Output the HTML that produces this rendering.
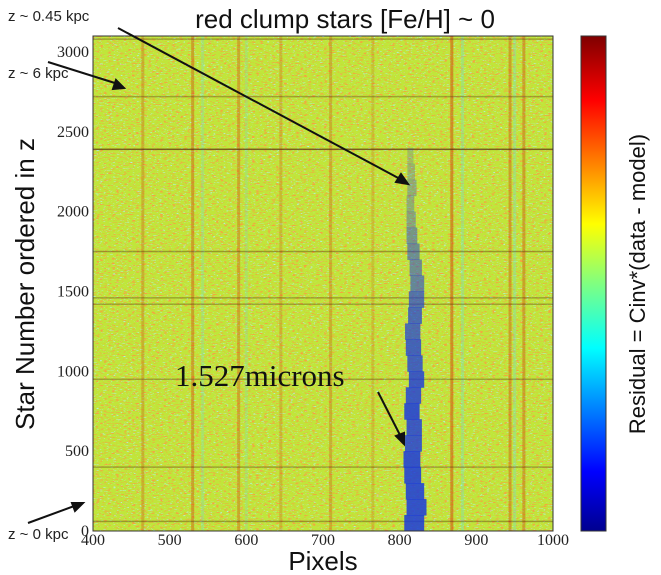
<!DOCTYPE html>
<html><head><meta charset="utf-8"><style>
html,body{margin:0;padding:0;background:#fff;}
svg{display:block;font-family:"Liberation Sans",sans-serif;}
</style></head><body>
<svg id="chart" width="661" height="575" viewBox="0 0 661 575">
<defs>
<linearGradient id="jet" x1="0" y1="1" x2="0" y2="0">
<stop offset="0" stop-color="#00008f"/><stop offset="0.12" stop-color="#0000ff"/>
<stop offset="0.37" stop-color="#00ffff"/><stop offset="0.5" stop-color="#80ff80"/>
<stop offset="0.62" stop-color="#ffff00"/><stop offset="0.87" stop-color="#ff0000"/>
<stop offset="1" stop-color="#7f0000"/></linearGradient>
<filter id="speck" x="0" y="0" width="100%" height="100%">
<feTurbulence type="fractalNoise" baseFrequency="0.25 0.9" numOctaves="2" seed="3"/>
<feColorMatrix type="matrix" values="0 0 0 0 0.9  0 0 0 0 0.38  0 0 0 0 0.05  7 0 0 0 -4.0"/>
</filter>
<filter id="speck2" x="0" y="0" width="100%" height="100%">
<feTurbulence type="fractalNoise" baseFrequency="0.3 1.2" numOctaves="2" seed="9"/>
<feColorMatrix type="matrix" values="0 0 0 0 0.45  0 0 0 0 0.88  0 0 0 0 0.75  0 7 0 0 -4.4"/>
</filter>
<clipPath id="plotclip"><rect x="93" y="36" width="460" height="495"/></clipPath>
</defs>
<g id="plot" clip-path="url(#plotclip)">
<rect x="93" y="36" width="460" height="495" fill="#c0e63a"/>
<rect x="93" y="36" width="460" height="495" filter="url(#speck2)"/>
<rect x="93" y="36" width="460" height="495" filter="url(#speck)"/>
<g id="stripes"></g><g id="hlines"></g><g id="band"></g>
</g>
<rect x="93" y="36" width="460" height="495" fill="none" stroke="#333" stroke-width="1"/>
<g id="axes"></g>
<rect x="581" y="36" width="25" height="495" fill="url(#jet)" stroke="#333" stroke-width="1"/>
<text x="345" y="28" font-size="26" text-anchor="middle" fill="#111">red clump stars [Fe/H] ~ 0</text>
<text x="323" y="570" font-size="26" text-anchor="middle" fill="#111">Pixels</text>
<text transform="translate(34,284) rotate(-90)" font-size="26" text-anchor="middle" fill="#111">Star Number ordered in z</text>
<text transform="translate(645,284) rotate(-90)" font-size="22" text-anchor="middle" fill="#111">Residual = Cinv*(data - model)</text>
<text x="8" y="21" font-size="15" fill="#222">z ~ 0.45 kpc</text>
<text x="8" y="78" font-size="15" fill="#222">z ~ 6 kpc</text>
<text x="8" y="539" font-size="15" fill="#222">z ~ 0 kpc</text>
<text x="175" y="386" font-size="31" font-family="Liberation Serif,serif" fill="#111">1.527microns</text>
<g stroke="#111" stroke-width="2" fill="#111">
<line x1="118" y1="28" x2="402" y2="180"/><polygon points="408,184 396,182 401,174"/>
<line x1="48" y1="62" x2="118" y2="84"/><polygon points="124,88 113,89 116,80"/>
<line x1="28" y1="523" x2="77" y2="505"/><polygon points="83,503 75,511 72,503"/>
<line x1="378" y1="392" x2="401" y2="437"/><polygon points="404,444 396,436 404,433"/>
</g>
</svg>
<script>
// data
const xTicks=[400,500,600,700,800,900,1000];
const yTicks=[0,500,1000,1500,2000,2500,3000];
const stripePixels=[465,530,543,590,600,645,710,765,868,882,944,950,962];
const stripeKinds=["r","r","c","r","c","r","r","r","r","c","r","c","r"];
const stripeStrength=[0.3,0.4,0.3,0.35,0.25,0.25,0.3,0.2,0.5,0.35,0.4,0.35,0.4];
const darkLineStars=[60,400,950,1420,1460,1750,2390,2720,3080];
const darkLineStrength=[0.4,0.35,0.35,0.35,0.35,0.4,0.7,0.35,0.35];
const bandStars=[0,100,200,300,400,500,600,700,800,900,1000,1100,1200,1300,1400,1500,1600,1700,1800,1900,2000,2100,2200,2300];
const bandCenter=[819,822,820,817,816,818,819,816,818,822,820,818,817,820,822,823,821,818,816,815,814,816,815,814];
const bandWidth=[26,26,24,22,22,22,20,20,20,20,20,20,20,18,20,18,16,16,14,12,10,12,10,8];
const bandStrength=[0.85,0.85,0.85,0.85,0.85,0.8,0.8,0.85,0.8,0.8,0.75,0.75,0.7,0.7,0.65,0.55,0.5,0.5,0.45,0.35,0.3,0.3,0.25,0.2];

const NS="http://www.w3.org/2000/svg";
const X0=93,X1=553,Y0=531,Y1=36;
function xs(p){return X0+(p-400)/600*(X1-X0);}
function ys(s){return Y0-s*0.1597;}
function mk(tag,attrs,parent){const e=document.createElementNS(NS,tag);for(const k in attrs)e.setAttribute(k,attrs[k]);parent.appendChild(e);return e;}
const st=document.getElementById('stripes');
stripePixels.forEach((p,i)=>{
  const e=mk('rect',{x:xs(p)-1.5,y:Y1,width:3,height:Y0-Y1,fill:stripeKinds[i]==="r"?"#d2400a":"#6fe0d0",opacity:stripeStrength[i]},st);
  
  
});
const hl=document.getElementById('hlines');
darkLineStars.forEach((s,i)=>{
  const e=mk('rect',{x:X0,y:ys(s)-0.75,width:X1-X0,height:1.5,fill:"#5a2a10",opacity:darkLineStrength[i]},hl);
  
  
});
const bd=document.getElementById('band');
bandStars.forEach((s,i)=>{
  const w=bandWidth[i]/600*(X1-X0);
  const e=mk('rect',{x:xs(bandCenter[i])-w/2,y:ys(s+100),width:w,height:ys(s)-ys(s+100)+0.5,fill:"#1a3adc",opacity:bandStrength[i]},bd);
  
  
});
const ax=document.getElementById('axes');
xTicks.forEach(t=>{
  const e=mk('text',{x:xs(t),y:545,"font-size":16,"text-anchor":"middle","font-family":"Liberation Serif,serif",fill:"#222"},ax);
  e.textContent=t;
  
  
});
yTicks.forEach(t=>{
  const e=mk('text',{x:89,y:ys(t)+5,"font-size":16,"text-anchor":"end","font-family":"Liberation Serif,serif",fill:"#222"},ax);
  e.textContent=t;
  
  
});
</script>
</body></html>
